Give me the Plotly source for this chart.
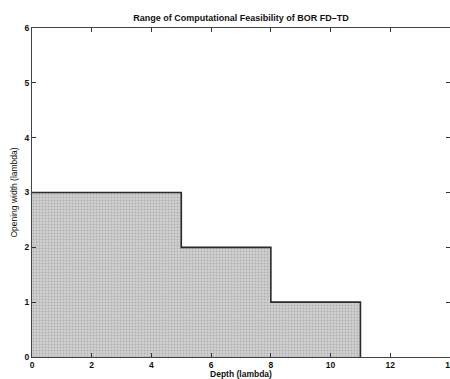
import plotly.graph_objects as go

# Staircase boundary of feasible region (step edges)
depth = [0, 5, 8, 11]
width = [3, 2, 1, 0]
x_ticks = [0, 2, 4, 6, 8, 10, 12, 14]
y_ticks = [0, 1, 2, 3, 4, 5, 6]

fig = go.Figure()
fig.add_trace(go.Scatter(
    x=depth, y=width, mode="lines", line=dict(shape="hv", color="#2a2a2a", width=1.6),
    fill="tozeroy", fillcolor="#c4c4c4",
    fillpattern=dict(shape=".", bgcolor="#d0d0d0", fgcolor="#8e8e8e", size=3, solidity=0.3),
    showlegend=False, hoverinfo="skip"))

fam = "Liberation Sans, Arial, sans-serif"
fig.update_layout(
    width=450, height=379,
    margin=dict(l=32, r=0, t=28, b=22),
    paper_bgcolor="white", plot_bgcolor="white",
    font=dict(family=fam, size=8, color="#111111"),
    title=dict(text="<b>Range of Computational Feasibility of BOR FD\u2013TD</b>", x=0.5, xanchor="center",
               xref="paper", y=1 - 18/379, yanchor="middle", font=dict(size=9, color="#111111")),
    xaxis=dict(range=[0, 14], tickvals=x_ticks, ticktext=[f"<b>{v}</b>" for v in x_ticks],
               ticks="inside", ticklen=4, tickcolor="#333", ticklabeloverflow="allow",
               automargin=False,
               showline=True, linecolor="#444", linewidth=1.3, mirror="ticks", showgrid=False,
               zeroline=False, tickfont=dict(size=8.5),
               title=dict(text="<b>Depth (lambda)</b>", standoff=3, font=dict(size=8.5))),
    yaxis=dict(range=[0, 6], tickvals=y_ticks, ticktext=[f"<b>{v}</b>" for v in y_ticks],
               ticks="inside", ticklen=4, tickcolor="#333", automargin=False,
               showline=True, linecolor="#444", linewidth=1.3, mirror="ticks", showgrid=False,
               zeroline=False, tickfont=dict(size=8.5),
               title=dict(text="Opening width (lambda)", standoff=5, font=dict(size=8.5))),
)
fig.write_html("out.html")
